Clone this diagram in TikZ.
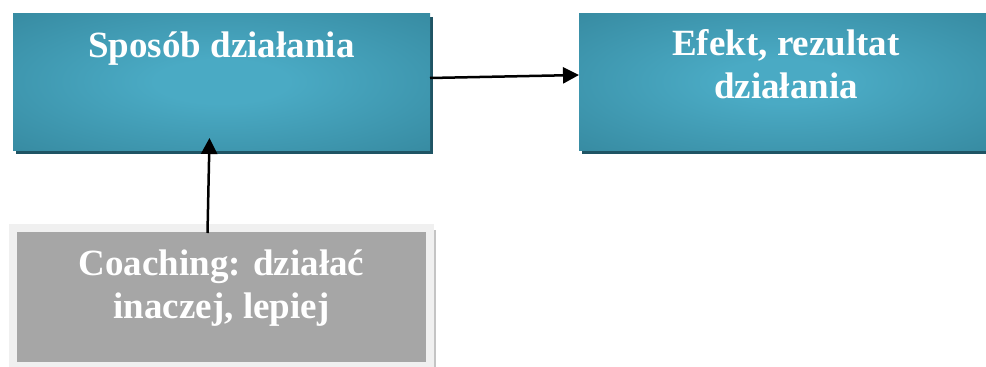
\documentclass[tikz,border=0pt]{standalone}
\usepackage{fontspec}
\setmainfont{Liberation Serif}
\usetikzlibrary{arrows.meta,shadows}
\definecolor{tin}{HTML}{4AAAC4}
\definecolor{tout}{HTML}{33849A}
\definecolor{tshadow}{HTML}{1F5464}
\definecolor{gfill}{HTML}{A6A6A6}
\definecolor{gborder}{HTML}{F0F0F0}
\definecolor{gshadow}{HTML}{C4C4C4}
\pgfdeclareradialshading{tealglow}{\pgfpoint{0bp}{0bp}}{color(0bp)=(tin); color(8bp)=(tin); color(42bp)=(tout); color(50bp)=(tout)}
\begin{document}
\begin{tikzpicture}[x=1pt,y=-1pt,
  tealbox/.style={rectangle, inner sep=0pt, outer sep=0pt, shading=tealglow,
    drop shadow={shadow xshift=3pt, shadow yshift=-4pt, fill=tshadow, opacity=1}},
  graybox/.style={rectangle, inner sep=0pt, outer sep=0pt, fill=gfill, draw=gborder, line width=8pt,
    drop shadow={shadow xshift=5.5pt, shadow yshift=-2pt, fill=gshadow, opacity=1}},
  lbl/.style={text=white, font=\fontsize{37}{43}\selectfont\bfseries, align=center, inner sep=0pt, anchor=base},
  arr/.style={line width=2.5pt, -{Triangle[length=16pt,width=16pt]}}]
\useasboundingbox (0,0) rectangle (986,367);
\node[tealbox, minimum width=417pt, minimum height=137pt] (b1) at (221.5,81.5) {};
\node[tealbox, minimum width=407pt, minimum height=137pt] (b2) at (782.5,81.5) {};
\node[graybox, minimum width=417pt, minimum height=138pt] (g) at (221.5,297) {};
\node[lbl] (t1) at (221.5,57) {Sposób działania};
\node[lbl] (t2) at (786,98) {Efekt, rezultat\\działania};
\node[lbl] (t3) at (221.5,318) {Coaching: działać\\inaczej, lepiej};
\draw[arr] ([yshift=3.5pt]b1.east) -- ([yshift=6.5pt]b2.west);
\draw[arr] ([xshift=-14pt,yshift=-5pt]g.north) -- ([xshift=-12pt,yshift=12pt]b1.south);
\end{tikzpicture}
\end{document}
